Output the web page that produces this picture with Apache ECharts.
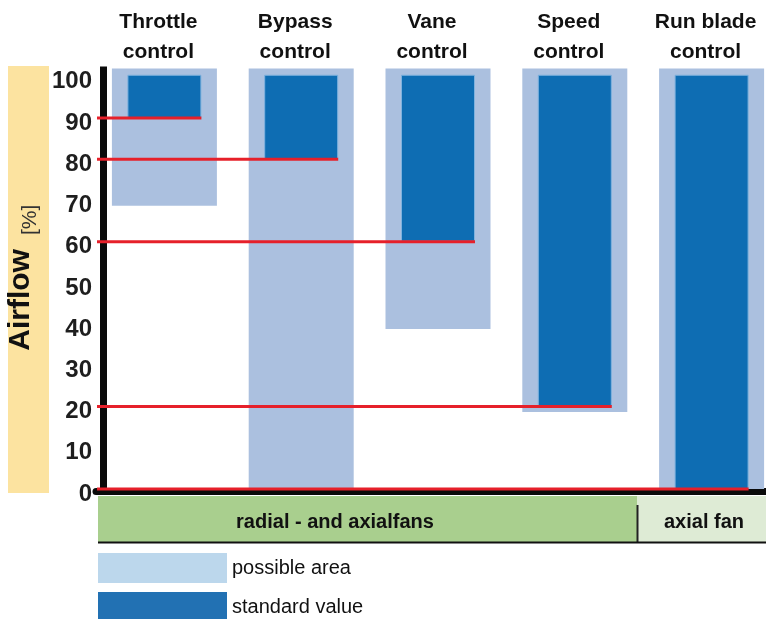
<!DOCTYPE html>
<html><head><meta charset="utf-8">
<script src="https://cdn.jsdelivr.net/npm/echarts@6/dist/echarts.min.js"></script>
<style>html,body{margin:0;padding:0;background:#fff}#c{width:766px;height:619px}</style>
</head><body><div id="c"></div>
<script>
// ---- data ----
const categories = ['Throttle\ncontrol', 'Bypass\ncontrol', 'Vane\ncontrol', 'Speed\ncontrol', 'Run blade\ncontrol'];
const possibleMin = [68.7, 0, 38.8, 18.7, 0];
const possibleMax = [102, 102, 102, 102, 102];
const standardMin = [90, 80, 60, 20, 0];
const standardMax = [100.5, 100.5, 100.5, 100.5, 100.5];
const yMin = 0, yMax = 102.5, yInterval = 10;
const fanGroups = ['radial - and axialfans', 'axial fan'];
const legendNames = ['possible area', 'standard value'];
const yName = 'Airflow';
const yUnit = '[%]';

// ---- style ----
const FONT = 'Liberation Sans, Arial, sans-serif';
const LIGHT_W = 105, DARK_W = 74;

const possibleSpan = possibleMax.map((v, i) => v - possibleMin[i]);
const standardSpan = standardMax.map((v, i) => v - standardMin[i]);

const chart = echarts.init(document.getElementById('c'), null, {renderer: 'canvas'});
chart.setOption({
  animation: false,
  backgroundColor: '#ffffff',
  grid: {left: 96, width: 684, top: 66.5, bottom: 130, containLabel: false, outerBoundsMode: 'none'},
  xAxis: [
    {type: 'category', data: categories, position: 'bottom', offset: 2.5,
     axisLine: {onZero: false, lineStyle: {color: '#0a0a0a', width: 7}},
     axisTick: {show: false}, axisLabel: {show: false}, splitLine: {show: false}},
    {type: 'category', data: categories, position: 'top',
     axisLine: {show: false}, axisTick: {show: false},
     axisLabel: {show: true, interval: 0, margin: -1, color: '#111', fontFamily: FONT,
       fontSize: 21, fontWeight: 'bold', lineHeight: 30, padding: [0, 12, 0, 0]},
     splitLine: {show: false}}
  ],
  yAxis: {
    type: 'value', min: yMin, max: yMax, interval: yInterval, offset: -7,
    axisLine: {show: true, lineStyle: {color: '#0a0a0a', width: 7, cap: 'butt'}},
    axisTick: {show: false}, splitLine: {show: false},
    axisLabel: {showMaxLabel: false, margin: 11, color: '#1e1e1e', fontFamily: FONT,
      fontSize: 24, fontWeight: 'bold', verticalAlign: 'top', lineHeight: 10},
    name: '{a|' + yName + '}{b|' + yUnit + '}',
    nameLocation: 'middle', nameRotate: 90, nameGap: 50,
    nameTextStyle: {rich: {
      a: {fontSize: 30, fontWeight: 'bold', fontFamily: FONT, color: '#111', padding: [0, 0, 5, 0]},
      b: {fontSize: 21, fontFamily: FONT, color: '#333', verticalAlign: 'bottom', padding: [0, 0, 0, 14]}
    }}
  },
  legend: {
    orient: 'vertical', left: 98, top: 553, height: 90, itemWidth: 129, itemHeight: 30, itemGap: 9,
    icon: 'rect', selectedMode: false, padding: 0,
    textStyle: {fontFamily: FONT, fontSize: 20, color: '#111'},
    data: [
      {name: legendNames[0], itemStyle: {color: '#bcd7ec', borderWidth: 0}},
      {name: legendNames[1], itemStyle: {color: '#2271b3', borderWidth: 0}}
    ]
  },
  graphic: [
    {type: 'rect', z: -1, shape: {x: 8, y: 66, width: 41, height: 427}, style: {fill: '#fce3a0'}},
    {type: 'rect', z: -1, shape: {x: 98, y: 496, width: 539, height: 46}, style: {fill: '#a9cf8e'}},
    {type: 'rect', z: -1, shape: {x: 637, y: 496, width: 129, height: 46}, style: {fill: '#deebd5'}},
    {type: 'line', shape: {x1: 637.5, y1: 505, x2: 637.5, y2: 542}, style: {stroke: '#222', lineWidth: 2}},
    {type: 'line', shape: {x1: 98, y1: 542.5, x2: 766, y2: 542.5}, style: {stroke: '#111', lineWidth: 2}},
    {type: 'text', style: {x: 335, y: 522, text: fanGroups[0], align: 'center', verticalAlign: 'middle',
      font: 'bold 20px ' + FONT, fill: '#111'}},
    {type: 'text', style: {x: 704, y: 522, text: fanGroups[1], align: 'center', verticalAlign: 'middle',
      font: 'bold 20px ' + FONT, fill: '#111'}}
  ],
  series: [
    {type: 'bar', name: 'possibleBase', xAxisIndex: 0, stack: 'L', barWidth: LIGHT_W, silent: true,
     itemStyle: {color: 'transparent'}, data: possibleMin},
    {type: 'bar', name: legendNames[0], xAxisIndex: 0, stack: 'L', barWidth: LIGHT_W,
     itemStyle: {color: '#abc0df'}, data: possibleSpan},
    {type: 'bar', name: 'standardBase', xAxisIndex: 1, stack: 'D', barWidth: DARK_W, silent: true,
     itemStyle: {color: 'transparent'}, data: standardMin},
    {type: 'bar', name: legendNames[1], xAxisIndex: 1, stack: 'D', barWidth: DARK_W,
     itemStyle: {color: '#0e6db3', borderColor: '#7fb2de', borderWidth: 1}, data: standardSpan},
    {type: 'custom', name: 'lower limit', xAxisIndex: 1, yAxisIndex: 0, z: 10, silent: true,
     data: standardMin.map((v, i) => [i, v]),
     encode: {x: 0, y: 1},
     renderItem: function (params, api) {
       const p = api.coord([api.value(0), api.value(1)]);
       const x0 = params.coordSys.x + 1;
       const x1 = p[0] + DARK_W / 2;
       return {type: 'line', shape: {x1: x0, y1: p[1], x2: x1, y2: p[1]},
               style: {stroke: '#e6202a', lineWidth: 3}};
     }}
  ]
});
</script></body></html>
